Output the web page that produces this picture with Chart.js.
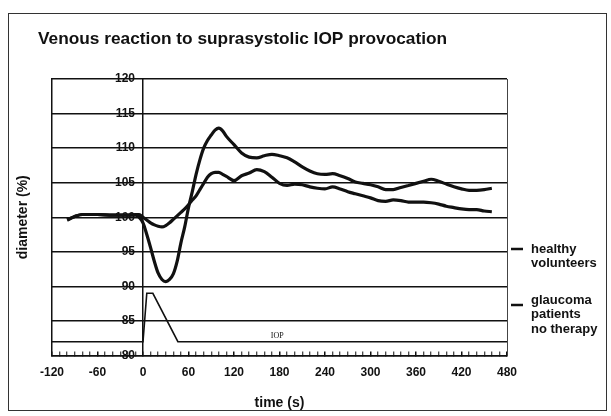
<!DOCTYPE html>
<html>
<head>
<meta charset="utf-8">
<script src="https://cdn.jsdelivr.net/npm/chart.js@4/dist/chart.umd.min.js"></script>
<style>
  html, body { margin: 0; padding: 0; background: #fff; }
  #wrap { width: 611px; height: 416px; }
</style>
</head>
<body>
<div id="wrap"><canvas id="chart" width="611" height="416"></canvas></div>
<script>
'use strict';

// time (s) of the sampled points, shared by both vessel curves
var times = [-100, -90, -80, -60, -40, -20, -10, -5, 0, 5, 10, 15, 20, 25, 30, 35, 40, 45, 50, 55,
    60, 65, 70, 75, 80, 85, 90, 95, 100, 105, 110, 120, 130, 140, 150, 160, 170, 180, 190, 200,
    210, 220, 230, 240, 250, 260, 270, 280, 290, 300, 310, 320, 330, 340, 350, 360, 370, 380,
    390, 400, 410, 420, 430, 440, 450, 460];

// deep dip, high overshoot
var glaucoma = [99.6, 100.1, 100.4, 100.4, 100.3, 100.3, 100.3, 100.0, 99.2, 97.5, 95.6, 93.6, 91.9, 91.0, 90.7, 91.0,
    91.8, 93.6, 96.3, 98.6, 101.4, 103.7, 106.2, 108.3, 110.0, 111.1, 111.9, 112.6, 112.9, 112.5, 111.7,
    110.5, 109.3, 108.7, 108.6, 108.9, 109.1, 108.9, 108.6, 108.0, 107.3, 106.7, 106.3, 106.2, 106.3,
    106.0, 105.6, 105.1, 104.9, 104.7, 104.4, 104.0, 104.0, 104.3, 104.6, 104.9, 105.2, 105.5, 105.2,
    104.8, 104.4, 104.1, 103.9, 103.9, 104.0, 104.2];

// shallow dip
var healthy = [99.6, 100.1, 100.4, 100.4, 100.3, 100.3, 100.4, 100.4, 100.0, 99.6, 99.2, 98.9, 98.7, 98.6, 98.8, 99.2,
    99.7, 100.2, 100.7, 101.2, 101.8, 102.5, 103.1, 104.0, 104.9, 105.8, 106.3, 106.5, 106.5, 106.2, 105.9,
    105.3, 106.0, 106.4, 106.9, 106.6, 105.8, 104.9, 104.6, 104.8, 104.7, 104.4, 104.2, 104.1, 104.4,
    104.1, 103.7, 103.4, 103.1, 102.8, 102.4, 102.3, 102.5, 102.4, 102.2, 102.2, 102.2, 102.1, 101.9,
    101.6, 101.4, 101.2, 101.1, 101.1, 100.9, 100.8];

// IOP provocation trace
var iopTimes = [-120, 0, 5, 13, 46, 480];
var iopValues = [82, 82, 89, 89, 82, 82];

var xTicks = [-120, -60, 0, 60, 120, 180, 240, 300, 360, 420, 480];
var yTicks = [80, 85, 90, 95, 100, 105, 110, 115, 120];

var titleText = 'Venous reaction to suprasystolic IOP provocation';
var legendItems = [
    { lines: ['healthy', 'volunteers'] },
    { lines: ['glaucoma', 'patients', 'no therapy'] }
];

function toPoints(xs, ys) {
    var out = [];
    for (var i = 0; i < xs.length; i++) {
        out.push({ x: xs[i], y: ys[i] });
    }
    return out;
}

var FONT = '"Liberation Sans", Arial, Helvetica, sans-serif';
var INK = '#111';

var decorPlugin = {
    id: 'decor',
    beforeDraw: function (chart) {
        var c = chart.ctx;
        c.save();
        c.fillStyle = '#fff';
        c.fillRect(0, 0, chart.width, chart.height);
        c.strokeStyle = '#333';
        c.lineWidth = 1;
        c.strokeRect(8.5, 13.5, 598, 397);
        c.restore();
    },
    afterDraw: function (chart) {
        var c = chart.ctx;
        var xs = chart.scales.x, ys = chart.scales.y;
        c.save();
        // title
        c.fillStyle = INK;
        c.font = 'bold 17.3px ' + FONT;
        c.textBaseline = 'alphabetic';
        c.textAlign = 'left';
        c.fillText(titleText, 38, 44);

        // IOP label
        c.font = '8px "Liberation Serif", "Times New Roman", serif';
        c.textAlign = 'center';
        c.textBaseline = 'middle';
        c.fillText('IOP', xs.getPixelForValue(177), ys.getPixelForValue(82.9));

        // legend
        var lx = 531, dashX = 511;
        var startY = [249, 300];
        c.font = 'bold 13px ' + FONT;
        c.textAlign = 'left';
        c.textBaseline = 'middle';
        for (var i = 0; i < legendItems.length; i++) {
            var item = legendItems[i];
            c.strokeStyle = INK;
            c.lineWidth = 2.5;
            c.beginPath();
            c.moveTo(dashX, startY[i] + (i === 0 ? 0 : 5));
            c.lineTo(dashX + 12, startY[i] + (i === 0 ? 0 : 5));
            c.stroke();
            for (var j = 0; j < item.lines.length; j++) {
                c.fillText(item.lines[j], lx, startY[i] + j * 14.5);
            }
        }
        c.restore();
    }
};

new Chart(document.getElementById('chart'), {
    type: 'line',
    data: {
        datasets: [
            {
                label: 'healthy volunteers',
                data: toPoints(times, healthy),
                borderColor: INK,
                borderWidth: 3.2,
                pointRadius: 0,
                cubicInterpolationMode: 'monotone',
                fill: false
            },
            {
                label: 'glaucoma patients no therapy',
                data: toPoints(times, glaucoma),
                borderColor: INK,
                borderWidth: 3.2,
                pointRadius: 0,
                cubicInterpolationMode: 'monotone',
                fill: false
            },
            {
                label: 'IOP',
                data: toPoints(iopTimes, iopValues),
                borderColor: INK,
                borderWidth: 1.6,
                pointRadius: 0,
                tension: 0,
                fill: false
            }
        ]
    },
    options: {
        responsive: false,
        animation: false,
        layout: { padding: { top: 79, left: 0, right: 0, bottom: 0 } },
        plugins: {
            legend: { display: false },
            title: { display: false },
            tooltip: { enabled: false }
        },
        scales: {
            x: {
                type: 'linear',
                position: 'bottom',
                min: -120,
                max: 480,
                afterFit: function (s) { s.height = 60.5; },
                afterBuildTicks: function (s) {
                    var t = [];
                    for (var v = -120; v <= 480; v += 10) t.push({ value: v });
                    s.ticks = t;
                },
                ticks: {
                    autoSkip: false,
                    maxRotation: 0,
                    padding: 14,
                    color: INK,
                    font: { family: FONT, size: 12, weight: 'bold' },
                    callback: function (v) { return xTicks.indexOf(v) >= 0 ? String(v) : ''; }
                },
                grid: {
                    drawOnChartArea: true,
                    drawTicks: true,
                    tickLength: -4,
                    color: function (ctx) { return ctx.tick && ctx.tick.value === 0 ? INK : 'rgba(0,0,0,0)'; },
                    lineWidth: 1.5,
                    tickColor: INK,
                    tickWidth: function (ctx) { return ctx.tick && xTicks.indexOf(ctx.tick.value) >= 0 ? 1.5 : 1; }
                },
                border: { display: true, color: INK, width: 1.5 },
                title: {
                    display: true,
                    text: 'time (s)',
                    color: INK,
                    font: { family: FONT, size: 14, weight: 'bold' },
                    padding: { top: 0, bottom: 4 }
                }
            },
            y: {
                type: 'linear',
                position: { x: -10.5 },
                min: 80,
                max: 120,
                afterFit: function (s) { s.width = 0; },
                afterBuildTicks: function (s) {
                    s.ticks = yTicks.map(function (v) { return { value: v }; });
                },
                ticks: {
                    color: INK,
                    font: { family: FONT, size: 12, weight: 'bold' }
                },
                grid: {
                    drawTicks: false,
                    color: INK,
                    lineWidth: 1.5
                },
                border: { display: false }
            },
            yl: {
                type: 'linear',
                position: 'left',
                min: 80,
                max: 120,
                afterFit: function (s) { s.width = 52; },
                ticks: { display: false },
                grid: { display: false, drawTicks: false },
                border: { display: true, color: INK, width: 1.5 },
                title: {
                    display: true,
                    text: 'diameter (%)',
                    color: INK,
                    font: { family: FONT, size: 14, weight: 'bold' },
                    padding: { top: 15, bottom: 0 }
                }
            },
            yr: {
                type: 'linear',
                position: 'right',
                min: 80,
                max: 120,
                afterFit: function (s) { s.width = 104; },
                ticks: { display: false },
                grid: { display: false, drawTicks: false },
                border: { display: true, color: '#444', width: 1, dash: [2, 1.5] }
            }
        }
    },
    plugins: [decorPlugin]
});
</script>
</body>
</html>
